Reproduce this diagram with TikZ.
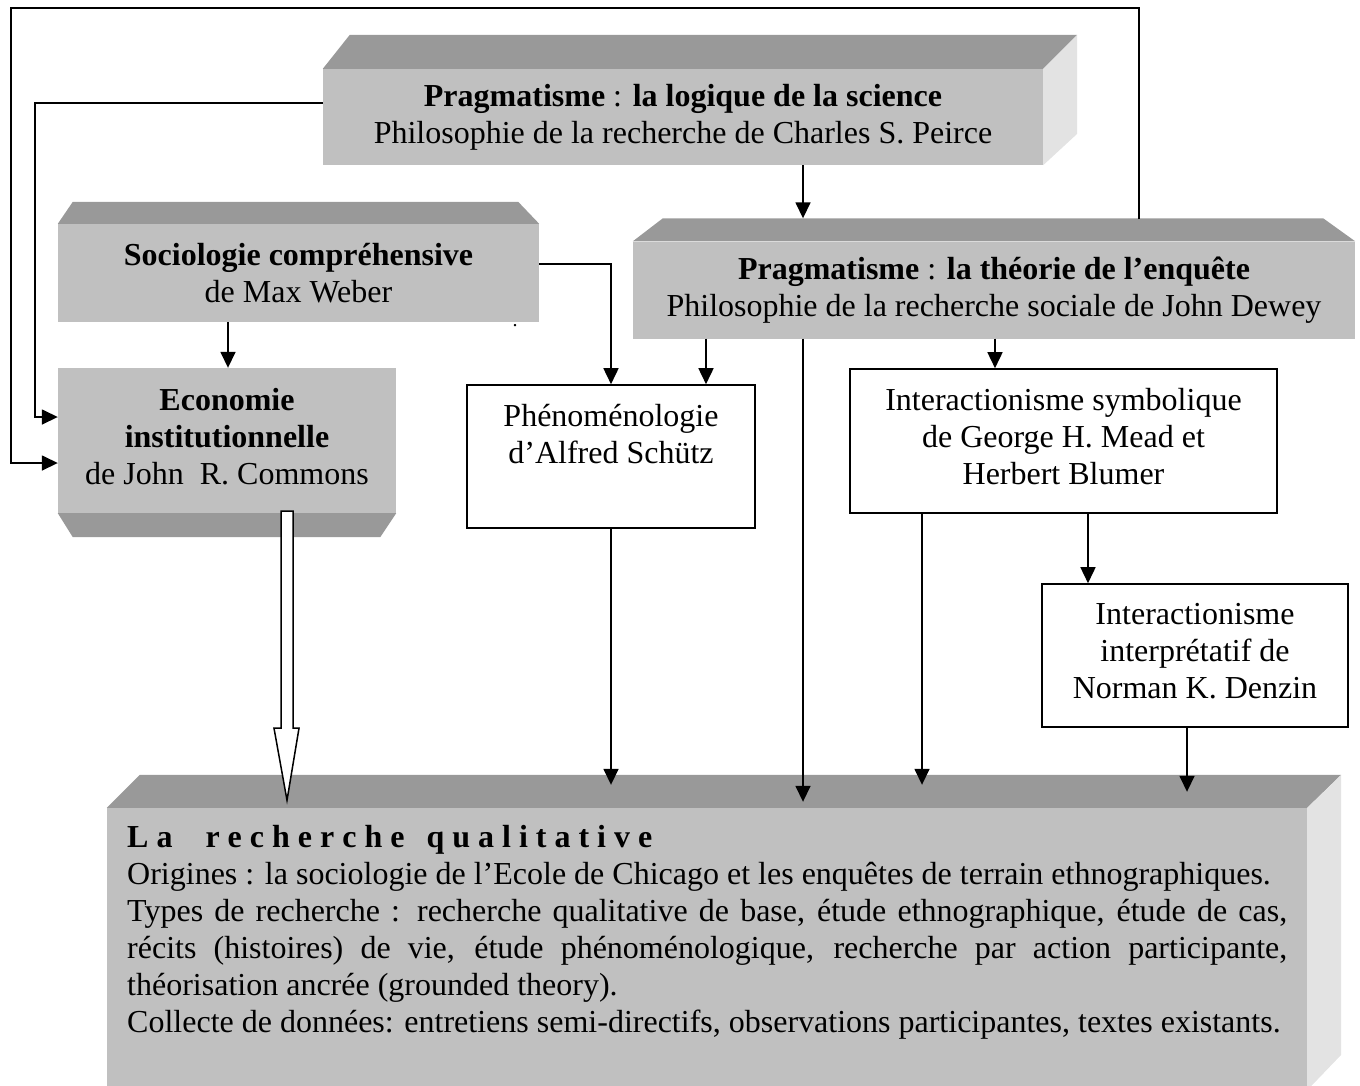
\documentclass[tikz,border=0pt]{standalone}
\usepackage{fontspec}
\setmainfont{Liberation Serif}
\usetikzlibrary{arrows.meta,calc}
\definecolor{topgray}{HTML}{999999}
\definecolor{frontgray}{HTML}{C0C0C0}
\definecolor{sidegray}{HTML}{E3E3E3}
\newcommand\boxfont{\fontsize{32}{37}\selectfont}
\newcommand\lsp{\hspace{8pt}}
\newcommand\wspa{\hspace{33pt}}
\newcommand\wspb{\hspace{22pt}}
\newcommand\lastdepth{\rule[-9pt]{0pt}{9pt}}
\tikzset{
  front/.style={fill=frontgray, draw=none, inner sep=0pt, align=center, font=\boxfont},
  topface/.style={fill=topgray},
  sideface/.style={fill=sidegray},
  plainbox/.style={draw, line width=1.6pt, fill=white, inner sep=0pt, align=center, font=\boxfont},
  conn/.style={line width=1.6pt, -{Triangle[length=16pt,width=15pt]}},
  hollow/.style={line width=1.5pt, fill=white, line join=miter},
}
\begin{document}
\begin{tikzpicture}[x=1pt,y=-1pt]
\useasboundingbox (0,0) rectangle (1360,1085);

% ---- 3D boxes (front faces as nodes) ----
\node[front, minimum width=720pt, minimum height=96pt] (peirce) at (683,117)
  {\textbf{Pragmatisme} : \textbf{la logique de la science}\\Philosophie de la recherche de Charles S. Peirce};
\fill[topface] (peirce.north west) -- ++(27,-34) -- ($(peirce.north east)+(34,-34)$) -- (peirce.north east) -- cycle;
\fill[sideface] (peirce.north east) -- ++(34,-34) -- ++(0,99) -- (peirce.south east) -- cycle;

\node[front, minimum width=481pt, minimum height=98pt] (weber) at (298.5,273)
  {\textbf{Sociologie compréhensive}\\de Max Weber};
\fill[topface] (weber.north west) -- ++(15,-22) -- ($(weber.north east)+(-21,-22)$) -- (weber.north east) -- cycle;

\node[front, minimum width=338pt, minimum height=145pt] (econ) at (227,440.5)
  {\textbf{Economie}\\\textbf{institutionnelle}\\de John\ \ R. Commons\lastdepth};
\fill[topface] (econ.south west) -- ++(15,24) -- ($(econ.south east)+(-16,24)$) -- (econ.south east) -- cycle;

\node[front, minimum width=722pt, minimum height=97pt] (dewey) at (994,290)
  {\textbf{Pragmatisme} : \textbf{la théorie de l’enquête}\\Philosophie de la recherche sociale de John Dewey};
\fill[topface] (dewey.north west) -- ++(30,-23) -- ($(dewey.north east)+(-32,-23)$) -- (dewey.north east) -- cycle;

\node[front, minimum width=1200pt, minimum height=282pt] (qual) at (707,949) {};
\fill[topface] (qual.north west) -- ++(33,-33) -- ($(qual.north east)+(34,-33)$) -- (qual.north east) -- cycle;
\fill[sideface] (qual.north east) -- ++(34,-33) -- ++(0,280) -- (qual.south east) -- cycle;
\node[anchor=north west, inner sep=0pt, text width=1160pt, align=justify, font=\boxfont] (qualtext) at (127,825)
  {\parindent=0pt\hyphenpenalty=10000
   {\bfseries L\lsp a\wspa r\lsp e\lsp c\lsp h\lsp e\lsp r\lsp c\lsp h\lsp e\wspb q\lsp u\lsp a\lsp l\lsp i\lsp t\lsp a\lsp t\lsp i\lsp v\lsp e}\par
   Origines : la sociologie de l’Ecole de Chicago et les enquêtes de terrain ethnographiques.\par
   Types de recherche : recherche qualitative de base, étude ethnographique, étude de cas,\linebreak
   récits (histoires) de vie, étude phénoménologique, recherche par action participante,\linebreak
   théorisation ancrée (grounded theory).\par
   Collecte de données: entretiens semi-directifs, observations participantes, textes existants.};

% ---- plain boxes ----
\node[plainbox, minimum width=288pt, minimum height=143pt] (phen) at (611,456.5)
  {Phénoménologie\\d’Alfred Schütz\\\lastdepth};
\node[plainbox, minimum width=427pt, minimum height=144pt] (sym) at (1063.5,441)
  {Interactionisme symbolique\\de George H. Mead et\\Herbert Blumer\lastdepth};
\node[plainbox, minimum width=306pt, minimum height=143pt] (denzin) at (1195,655.5)
  {Interactionisme\\interprétatif de\\Norman K. Denzin\lastdepth};

\node[inner sep=0pt, font=\fontsize{20}{20}\selectfont] (stray) at (515,326) {.};

% ---- connectors ----
\coordinate (loopstart) at (1139,219);
\draw[conn] (loopstart) -- (1139,8) -- (11,8) -- (11,463) -- (econ.west |- 0,463);
\draw[conn] (peirce.west |- 0,103) -| (35,417) -- (econ.west |- 0,417);
\draw[conn] (peirce.south -| 803,0) -- ($(dewey.north -| 803,0)+(0,-23)$);
\draw[conn] (weber.south -| 228,0) -- (econ.north -| 228,0);
\draw[conn] (weber.east |- 0,264) -| (phen.north);
\draw[conn] (dewey.south -| 706,0) -- (phen.north -| 706,0);
\draw[conn] (dewey.south -| 803,0) -- ($(qual.north -| 803,0)+(0,-6)$);
\draw[conn] (dewey.south -| 995,0) -- (sym.north -| 995,0);
\draw[conn] (phen.south) -- ($(qual.north -| 611,0)+(0,-23)$);
\draw[conn] (sym.south -| 922,0) -- ($(qual.north -| 922,0)+(0,-23)$);
\draw[conn] (sym.south -| 1088,0) -- (denzin.north -| 1088,0);
\draw[conn] (denzin.south -| 1187,0) -- ($(qual.north -| 1187,0)+(0,-16)$);

% hollow arrow
\coordinate (hstart) at (econ.south -| 287,0);
\draw[hollow] (hstart) ++(-6,-2) -- ++(0,217) -- ++(-7,0) -- ++(13,72) -- ++(12,-72) -- ++(-6,0) -- ++(0,-217) -- cycle;
\end{tikzpicture}
\end{document}
